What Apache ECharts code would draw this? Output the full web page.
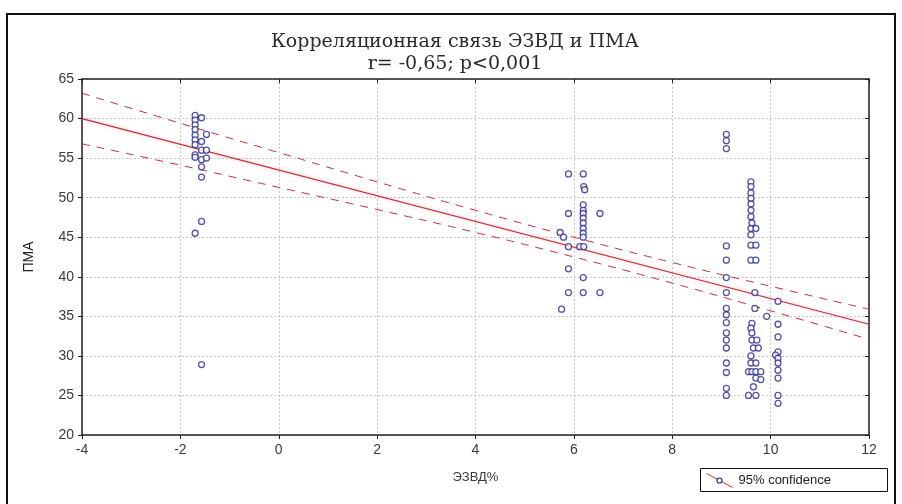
<!DOCTYPE html>
<html>
<head>
<meta charset="utf-8">
<script src="https://cdn.jsdelivr.net/npm/echarts@6/dist/echarts.min.js"></script>
<style>
  html, body { margin: 0; padding: 0; background: #fff; }
  #chart { width: 902px; height: 504px; }
</style>
</head>
<body>
<div id="chart"></div>
<script>
// точки: [ЭЗВД%, ПМА]
const groupLow = [
  [-1.7, 60.4], [-1.7, 59.8], [-1.7, 59.2], [-1.7, 58.6], [-1.7, 57.9], [-1.7, 57.3],
  [-1.7, 56.7], [-1.7, 55.4], [-1.7, 55.1], [-1.7, 45.5],
  [-1.57, 60.1], [-1.57, 57.1], [-1.57, 56.0], [-1.57, 54.8], [-1.57, 53.9],
  [-1.57, 52.6], [-1.57, 47.0], [-1.57, 28.9],
  [-1.47, 58.0], [-1.47, 56.0], [-1.47, 55.0]
]
const groupMid = [
  [5.89, 53.0], [6.19, 53.0], [6.2, 51.4], [6.22, 51.0], [5.89, 48.0], [6.19, 49.1],
  [6.19, 48.4], [6.19, 48.0], [6.53, 48.0], [6.19, 47.4], [6.19, 46.8], [6.19, 46.1],
  [6.19, 45.5], [6.19, 45.0], [5.72, 45.6], [5.79, 45.0], [5.89, 43.8], [6.12, 43.8],
  [6.2, 43.8], [5.89, 41.0], [6.19, 39.9], [5.89, 38.0], [6.19, 38.0], [6.53, 38.0],
  [5.75, 35.9]
]
const groupHigh = [
  // ~9.1
  [9.1, 58.0], [9.1, 57.2], [9.1, 56.2], [9.1, 43.9], [9.1, 42.1], [9.1, 39.9],
  [9.1, 38.0], [9.1, 36.0], [9.1, 35.2], [9.1, 34.2], [9.1, 32.9], [9.1, 32.0],
  [9.1, 31.0], [9.1, 29.1], [9.1, 27.9], [9.1, 25.9], [9.1, 25.0],
  // ~9.6
  [9.6, 52.0], [9.6, 51.4], [9.6, 50.6], [9.6, 49.9], [9.6, 49.2], [9.6, 48.4],
  [9.6, 47.6], [9.62, 46.8], [9.6, 46.1], [9.7, 46.1], [9.6, 45.3], [9.6, 44.0],
  [9.7, 44.0], [9.6, 42.1], [9.7, 42.1], [9.68, 38.0], [9.68, 36.0], [9.92, 35.0],
  [9.62, 34.1], [9.6, 33.5], [9.62, 32.9], [9.62, 32.0], [9.72, 32.0], [9.65, 31.0],
  [9.75, 31.0], [9.6, 30.0], [9.6, 29.1], [9.7, 29.1], [9.55, 28.0], [9.62, 28.0],
  [9.7, 28.0], [9.8, 28.0], [9.7, 27.2], [9.8, 27.0], [9.65, 26.1], [9.55, 25.0],
  [9.7, 25.0],
  // ~10.15
  [10.15, 36.9], [10.15, 34.0], [10.15, 32.4], [10.15, 30.5], [10.1, 30.1],
  [10.15, 29.7], [10.15, 29.1], [10.15, 28.2], [10.15, 27.2], [10.15, 25.0],
  [10.15, 24.0]
]

// линия регрессии и 95% доверительные границы
const fitLine = [[-4, 60], [12, 34]]
const bandX = [-4, -2, 0, 2, 4, 6, 8, 10, 12]
const bandUpper = [63.2, 59.4, 55.7, 52.0, 48.4, 45.0, 41.8, 38.8, 35.9]
const bandLower = [56.8, 54.1, 51.3, 48.5, 45.6, 42.5, 39.2, 35.7, 32.1]

const xTicks = { min: -4, max: 12, interval: 2 }
const yTicks = { min: 20, max: 65, interval: 5 }

const red = '#c3303a'
const blue = '#2b2b8f'
const labelFont = { color: '#3a3a3a', fontSize: 14, fontFamily: 'Liberation Sans' }

const myChart = echarts.init(document.getElementById('chart'))

const zip = (xs, ys) => xs.map((x, i) => [x, ys[i]])

const dashed = (data) => ({
  type: 'line',
  data,
  smooth: true,
  symbol: 'none',
  silent: true,
  z: 3,
  lineStyle: { color: red, width: 1, type: [8, 7] }
})

const frameAxisLine = { show: true, onZero: false, lineStyle: { color: '#222', width: 1.5 } }
const innerTick = { show: true, inside: true, length: 4, lineStyle: { color: '#222' } }
const outerTick = { show: true, inside: false, length: 4, lineStyle: { color: '#222' } }

const option = {
  animation: false,
  backgroundColor: '#fff',
  title: {
    text: 'Корреляционная связь ЭЗВД и ПМА\nr= -0,65; p<0,001',
    left: 450,
    top: 26,
    textAlign: 'center',
    textStyle: {
      fontFamily: 'DejaVu Serif',
      fontWeight: 'normal',
      fontSize: 19,
      lineHeight: 22,
      color: '#2a2a2a'
    }
  },
  grid: { left: 82, right: 33, top: 79, bottom: 69 },
  xAxis: [{
    type: 'value',
    ...xTicks,
    name: 'ЭЗВД%',
    nameLocation: 'middle',
    nameGap: 36,
    nameTextStyle: { ...labelFont, fontSize: 13 },
    axisLine: frameAxisLine,
    axisTick: outerTick,
    axisLabel: { ...labelFont, margin: 8 },
    splitLine: { lineStyle: { color: '#c8c8c8', type: [2, 2] } }
  }, {
    type: 'value',
    ...xTicks,
    position: 'top',
    axisLine: frameAxisLine,
    axisTick: innerTick,
    axisLabel: { show: false },
    splitLine: { show: false }
  }],
  yAxis: [{
    type: 'value',
    ...yTicks,
    name: 'ПМА',
    nameLocation: 'middle',
    nameGap: 46,
    nameTextStyle: { ...labelFont, fontSize: 14, color: '#222' },
    axisLine: frameAxisLine,
    axisTick: outerTick,
    axisLabel: { ...labelFont, margin: 8 },
    splitLine: { lineStyle: { color: '#c8c8c8', type: [2, 2] } }
  }, {
    type: 'value',
    ...yTicks,
    position: 'right',
    axisLine: frameAxisLine,
    axisTick: innerTick,
    axisLabel: { show: false },
    splitLine: { show: false }
  }],
  series: [
    {
      type: 'scatter',
      data: [...groupLow, ...groupMid, ...groupHigh],
      symbol: 'circle',
      symbolSize: 6,
      z: 4,
      itemStyle: { color: '#fff', borderColor: blue, borderWidth: 1.3 }
    },
    {
      type: 'line',
      data: fitLine,
      symbol: 'none',
      silent: true,
      z: 3,
      lineStyle: {
        color: red,
        width: 1.2,
        shadowColor: 'rgba(235,130,140,0.6)',
        shadowBlur: 4
      }
    },
    dashed(zip(bandX, bandUpper)),
    dashed(zip(bandX, bandLower))
  ],
  graphic: [
    {
      type: 'rect',
      shape: { x: 7, y: 14, width: 888, height: 510 },
      style: { fill: 'none', stroke: '#111', lineWidth: 2 },
      silent: true
    },
    {
      type: 'group',
      left: 700,
      top: 468,
      children: [
        {
          type: 'rect',
          shape: { x: 0, y: 0, width: 187, height: 23 },
          style: { fill: '#fff', stroke: '#111', lineWidth: 1 }
        },
        {
          type: 'line',
          shape: { x1: 6, y1: 5, x2: 32, y2: 19 },
          style: { stroke: red, lineWidth: 1 }
        },
        {
          type: 'circle',
          shape: { cx: 19, cy: 12, r: 2.5 },
          style: { fill: '#fff', stroke: blue, lineWidth: 1.2 }
        },
        {
          type: 'text',
          x: 38,
          y: 12,
          style: {
            text: '95% confidence',
            fill: '#222',
            fontSize: 13,
            fontFamily: 'Liberation Sans',
            verticalAlign: 'middle'
          }
        }
      ]
    }
  ]
}

option && myChart.setOption(option)
</script>
</body>
</html>
